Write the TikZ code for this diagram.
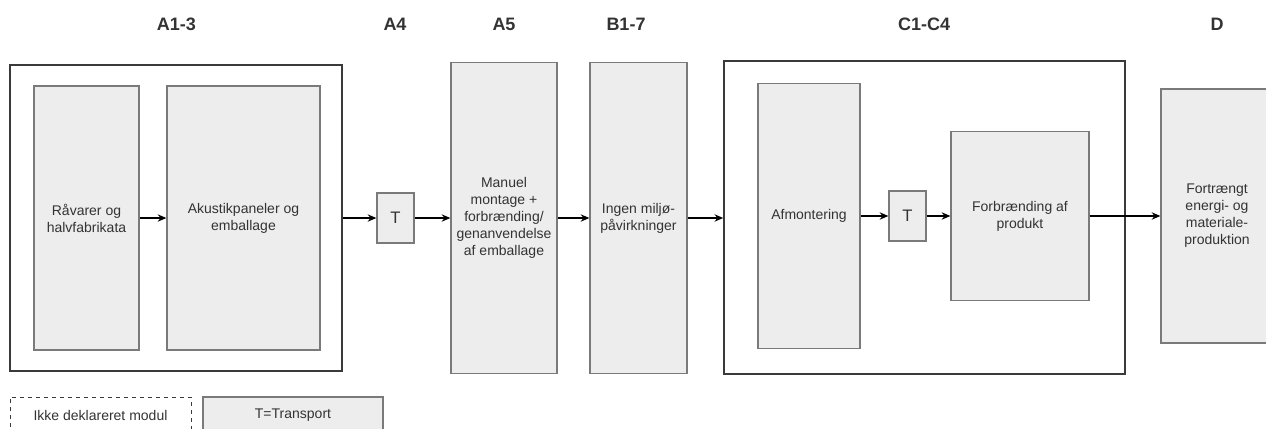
\documentclass[tikz,border=0pt]{standalone}
\usepackage{fontspec}
\setmainfont{Liberation Sans}
\usetikzlibrary{arrows.meta}

\newlength{\px}
\setlength{\px}{0.75pt}

\definecolor{boxfill}{HTML}{EDEDED}
\definecolor{boxline}{HTML}{7A7A7A}
\definecolor{grpline}{HTML}{3A3A3A}
\definecolor{txt}{HTML}{333333}

\tikzset{
  stage/.style={draw=boxline, fill=boxfill, line width=1.3\px, text=txt, align=center,
    inner sep=0pt, font=\fontsize{10.5pt}{12.75pt}\selectfont},
  trans/.style={stage, minimum width=37\px, minimum height=50\px, font=\fontsize{12.5pt}{14pt}\selectfont},
  group/.style={draw=grpline, line width=1.5\px, inner sep=0pt},
  head/.style={font=\bfseries\fontsize{13.5pt}{16pt}\selectfont, text=txt, anchor=base},
  flow/.style={-{Stealth[length=6.5pt,width=5.5pt]}, line width=1.4\px, black},
}

\begin{document}
\begin{tikzpicture}[x=\px, y=-\px]
        \useasboundingbox (0,0) rectangle (1266,428);

        % module headers
        \node[head] (hA13) at (176.5,31) {A1-3};
        \node[head] (hA4) at (395,31) {A4};
        \node[head] (hA5) at (504,31) {A5};
        \node[head] (hB17) at (626,31) {B1-7};
        \node[head] (hC) at (924,31) {C1-C4};
        \node[head] (hD) at (1217,31) {D};

        % A1-3
        \node[group, minimum width=332\px, minimum height=306\px] (grpA) at (176,218) {};
        \node[stage, minimum width=105\px, minimum height=264\px] (raw) at (86.5,218) {Råvarer og\\halvfabrikata};
        \node[stage, minimum width=153\px, minimum height=264\px] (prod) at (243.5,218) {Akustikpaneler og\\emballage};

        % A4, A5, B1-7
        \node[trans] (tA) at (395.5,218) {T};
        \node[stage, minimum width=106\px, minimum height=311\px] (mount) at (504,218) {Manuel\\montage +\\forbrænding/\\genanvendelse\\af emballage};
        \node[stage, minimum width=97\px, minimum height=311\px] (use) at (638.5,218) {Ingen miljø-\\påvirkninger};

        % C1-C4
        \node[group, minimum width=401\px, minimum height=313\px] (grpC) at (924.5,217.5) {};
        \node[stage, minimum width=102\px, minimum height=265\px] (dis) at (809,216) {Afmontering};
        \node[trans] (tC) at (907.5,216) {T};
        \node[stage, minimum width=138\px, minimum height=169\px] (burn) at (1020,216) {Forbrænding af\\produkt};

        % D
        \node[stage, minimum width=112\px, minimum height=254\px] (sub) at (1217,216) {Fortrængt\\energi- og\\materiale-\\produktion};

        % legend
        \node[draw=grpline, dashed, line width=1\px, minimum width=181\px, minimum height=36\px,
          text=txt, font=\fontsize{10.5pt}{12.75pt}\selectfont] (undecl) at (100.5,415) {Ikke deklareret modul};
        \node[stage, minimum width=180\px, minimum height=36\px] (legT) at (293,415) {T=Transport};

        % flows
        \draw[flow] (raw.east) -- (prod.west);
        \draw[flow] (grpA.east) -- (tA.west);
        \draw[flow] (tA.east) -- (mount.west);
        \draw[flow] (mount.east) -- (use.west);
        \draw[flow] (use.east) -- (use.east -| grpC.west);
        \draw[flow] (dis.east) -- (tC.west);
        \draw[flow] (tC.east) -- (burn.west);
        \draw[flow] (burn.east) -- (sub.west);
\end{tikzpicture}
\end{document}
